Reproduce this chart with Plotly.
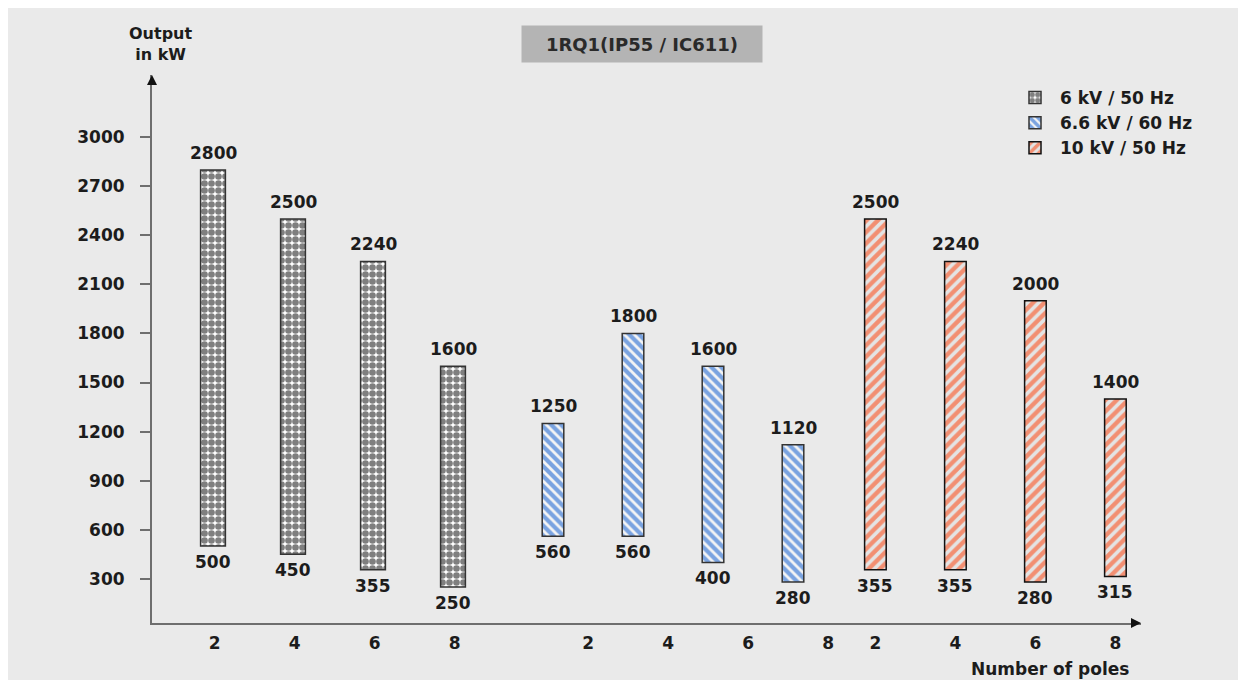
import plotly.graph_objects as go

# ---- data ----
poles = [2, 4, 6, 8]
series_names = ["6 kV / 50 Hz", "6.6 kV / 60 Hz", "10 kV / 50 Hz"]
max_6kv_50 = [2800, 2500, 2240, 1600]
min_6kv_50 = [500, 450, 355, 250]
max_66kv_60 = [1250, 1800, 1600, 1120]
min_66kv_60 = [560, 560, 400, 280]
max_10kv_50 = [2500, 2240, 2000, 1400]
min_10kv_50 = [355, 355, 280, 315]
y_ticks = [300, 600, 900, 1200, 1500, 1800, 2100, 2400, 2700, 3000]
chart_title = "1RQ1(IP55 / IC611)"
y_title = "Output<br>in kW"
x_title = "Number of poles"

# ---- layout helpers ----
group_offsets = [0.0, 4.25, 8.28]
tick_shifts = [0.02, 0.44, 0.0]
bar_widths = [0.31, 0.27, 0.27]
styles = [
    dict(shape=".", fgcolor="#000000", bgcolor="#ffffff", size=7, solidity=0.7),
    dict(shape="\\", fgcolor="#0052cc", bgcolor="#f4f4f4", size=7, solidity=0.6),
    dict(shape="/", fgcolor="#ff3a00", bgcolor="#e4e4e4", size=8, solidity=0.55),
]
line_colors = ["#333333", "#333333", "#111111"]
maxes = [max_6kv_50, max_66kv_60, max_10kv_50]
mins = [min_6kv_50, min_66kv_60, min_10kv_50]

FONT = "DejaVu Sans, Liberation Sans, Arial, sans-serif"
TXT = "#1c1c1c"
FS = 17

# page offset (body margin) and plot area in window pixels
OFF = 8
PL, PR, PT, PB = 152, 1141, 75, 623
W, H = 1232, 672
L, T = PL - OFF, PT - OFF
pw, ph = PR - PL, PB - PT
R, B = W - L - pw, H - T - ph


def px_x(px):
    return (px - PL) / pw


def px_y(py):
    return (PB - py) / ph


fig = go.Figure()
tickvals, ticktext = [], []
value_labels = []
for g, name in enumerate(series_names):
    xs = [group_offsets[g] + i for i in range(len(poles))]
    heights = [hi - lo for hi, lo in zip(maxes[g], mins[g])]
    fig.add_trace(go.Bar(
        x=xs, y=heights, base=mins[g], width=bar_widths[g], name=name,
        legendgroup=name,
        marker=dict(color=styles[g]["bgcolor"], pattern=styles[g],
                    line=dict(color=line_colors[g], width=1.5)),
        hoverinfo="skip",
    ))
    for x, hi, lo in zip(xs, maxes[g], mins[g]):
        value_labels.append(dict(
            x=x, y=hi, xref="x", yref="y", text=str(hi), showarrow=False,
            xanchor="center", yanchor="bottom", yshift=5,
            font=dict(family=FONT, size=FS, color=TXT, weight="bold")))
        value_labels.append(dict(
            x=x, y=lo, xref="x", yref="y", text=str(lo), showarrow=False,
            xanchor="center", yanchor="top", yshift=-4,
            font=dict(family=FONT, size=FS, color=TXT, weight="bold")))
    for i, p in enumerate(poles):
        tickvals.append(group_offsets[g] + i + tick_shifts[g])
        ticktext.append(str(p))

fig.update_layout(
    width=W, height=H,
    margin=dict(l=L, r=R, t=T, b=B),
    paper_bgcolor="#eaeaea",
    plot_bgcolor="#eaeaea",
    barmode="overlay",
    font=dict(family=FONT, size=FS, color=TXT),
    showlegend=True,
    legend=dict(
        x=px_x(1010), y=px_y(80), xanchor="left", yanchor="top",
        bgcolor="rgba(0,0,0,0)", traceorder="grouped", tracegroupgap=0,
        font=dict(family=FONT, size=FS, color=TXT, weight="bold"),
        itemwidth=40,
    ),
    xaxis=dict(
        range=[-0.7625, 11.6], showgrid=False, zeroline=False,
        showline=True, linecolor="#6e6e6e", linewidth=2,
        tickmode="array", tickvals=tickvals, ticktext=ticktext,
        ticks="", ticklabelstandoff=4,
        tickfont=dict(family=FONT, size=FS, color=TXT, weight="bold"),
    ),
    yaxis=dict(
        range=[30, 3380], showgrid=False, zeroline=False,
        showline=True, linecolor="#6e6e6e", linewidth=2,
        tickmode="array", tickvals=y_ticks,
        ticks="outside", ticklen=10, tickwidth=1.5, tickcolor="#6e6e6e",
        ticklabelstandoff=12,
        tickfont=dict(family=FONT, size=FS, color=TXT, weight="bold"),
    ),
    annotations=value_labels + [
        dict(xref="paper", yref="paper", x=px_x(642), y=px_y(44),
             xanchor="center", yanchor="middle",
             text="<b>" + chart_title + "</b>", showarrow=False,
             bgcolor="#b4b4b4", width=238, height=34,
             font=dict(family=FONT, size=FS + 1, color="#2a2a2a")),
        dict(xref="paper", yref="paper", x=px_x(160), y=px_y(44),
             xanchor="center", yanchor="middle",
             text="<b>" + y_title + "</b>", showarrow=False,
             font=dict(family=FONT, size=FS - 1, color=TXT)),
        dict(xref="paper", yref="paper", x=px_x(1050), y=px_y(669),
             xanchor="center", yanchor="middle",
             text="<b>" + x_title + "</b>", showarrow=False,
             font=dict(family=FONT, size=FS, color=TXT)),
        dict(xref="paper", yref="paper", x=0, y=1, ax=0, ay=10,
             axref="pixel", ayref="pixel", text="", showarrow=True,
             arrowhead=2, arrowsize=1, arrowwidth=2, arrowcolor="#111111"),
        dict(xref="paper", yref="paper", x=1, y=0, ax=-10, ay=0,
             axref="pixel", ayref="pixel", text="", showarrow=True,
             arrowhead=2, arrowsize=1, arrowwidth=2, arrowcolor="#111111"),
    ],
)

fig.write_html("out.html")
